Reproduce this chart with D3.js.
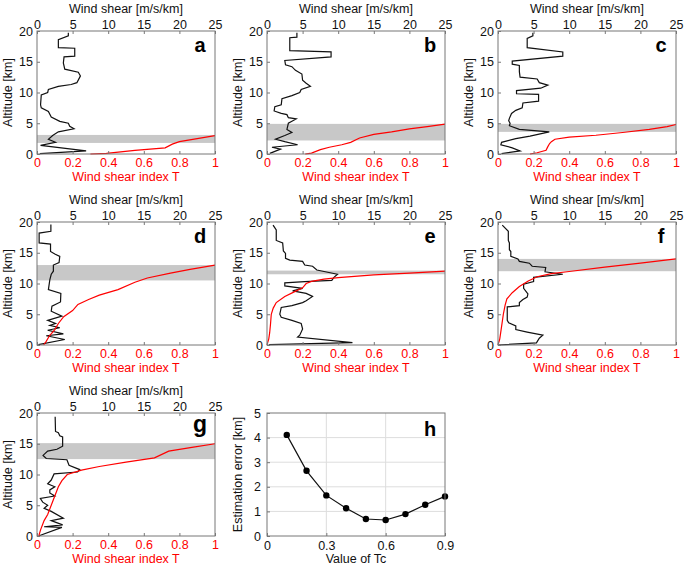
<!DOCTYPE html>
<html>
<head>
<meta charset="utf-8">
<script src="https://cdn.jsdelivr.net/npm/d3@7"></script>
<style>
body { margin: 0; background: #fff; }
text { font-family: "Liberation Sans", Arial, sans-serif; }
</style>
</head>
<body>
<svg id="fig" width="685" height="568"></svg>
<script>
// wind shear profiles [m/s/km, altitude km]
var shearA = [[4.4,19.7],[4.4,19.2],[3.0,18.6],[3.0,17.3],[5.3,17.2],[5.3,15.9],[3.8,15.8],[3.7,14.8],[3.9,13.8],[5.8,13.3],[6.1,12.7],[5.6,11.6],[4.8,11.3],[3.0,11.0],[1.6,10.5],[1.5,10.0],[0.6,9.6],[0.5,8.0],[0.6,7.5],[1.6,6.9],[2.0,6.0],[3.2,5.3],[4.4,5.0],[4.6,4.5],[5.2,4.1],[3.0,3.6],[2.2,3.0],[1.6,2.4],[2.6,1.9],[0.5,1.4],[6.9,0.5],[0.4,0.05]];
var shearB = [[4.2,19.7],[4.2,19.0],[3.2,18.9],[3.2,16.8],[9.0,16.6],[9.0,15.8],[2.5,15.2],[2.6,14.5],[3.5,14.2],[4.0,13.6],[4.9,13.0],[5.0,12.0],[5.5,11.5],[6.1,11.0],[4.8,10.5],[4.6,10.0],[3.5,9.5],[2.1,9.0],[2.0,8.0],[1.1,7.7],[1.0,7.0],[2.0,6.6],[2.8,6.4],[3.0,5.9],[4.1,5.7],[3.0,5.0],[2.8,4.0],[3.5,3.5],[2.5,3.0],[1.2,2.4],[2.5,2.0],[4.3,1.5],[0.7,1.1],[1.9,0.8],[0.4,0.1]];
var shearC = [[4.9,19.7],[4.9,19.2],[4.1,18.8],[4.1,17.3],[9.1,16.6],[9.1,15.9],[2.0,15.1],[2.0,14.6],[3.0,14.4],[3.0,13.4],[3.1,12.5],[5.5,12.2],[5.8,11.6],[7.0,11.2],[6.0,10.7],[2.6,10.3],[2.6,9.8],[5.7,9.7],[5.7,8.6],[3.5,8.3],[3.4,7.5],[2.5,7.1],[1.9,6.6],[1.6,5.8],[1.5,5.4],[1.7,5.0],[1.6,4.6],[3.0,4.0],[7.2,3.6],[4.5,2.9],[2.5,2.5],[0.5,1.9],[0.4,1.5],[2.0,1.0],[3.1,0.5],[0.5,0.05]];
var shearD = [[1.95,19.6],[1.95,18.5],[0.3,18.2],[0.3,16.6],[1.9,16.4],[1.9,15.2],[2.5,14.8],[3.2,14.4],[3.1,13.4],[2.3,13.0],[2.3,12.0],[2.0,11.5],[1.8,10.6],[1.6,9.0],[3.35,8.4],[3.3,7.0],[2.1,6.3],[2.0,5.5],[3.5,4.7],[1.5,4.0],[2.6,3.5],[1.8,3.2],[3.2,2.8],[1.5,2.4],[3.7,1.8],[1.3,1.5],[3.9,0.9],[0.2,0.05]];
var shearE = [[0.85,19.5],[1.3,18.7],[1.3,17.0],[2.2,16.6],[2.3,15.3],[2.6,14.9],[2.6,14.1],[3.2,13.8],[5.0,13.6],[5.3,13.0],[6.4,12.8],[7.0,12.2],[9.9,11.5],[9.4,11.0],[9.1,10.5],[5.3,10.3],[2.5,10.1],[2.5,9.6],[5.0,9.2],[3.6,8.8],[5.5,8.4],[6.4,7.9],[5.5,7.2],[5.0,6.9],[3.5,6.4],[2.0,6.1],[1.8,5.0],[2.0,4.5],[3.5,4.0],[4.8,3.5],[5.0,2.6],[4.6,1.6],[4.3,1.3],[12.0,0.4],[0.3,0.05]];
var shearF = [[0.6,19.5],[1.45,18.5],[1.45,17.0],[1.6,16.6],[1.6,15.5],[1.8,15.2],[1.8,14.4],[2.8,14.0],[3.0,13.6],[4.4,13.3],[4.8,12.8],[6.7,12.6],[6.6,11.9],[9.1,11.5],[5.0,11.0],[5.0,10.3],[3.6,9.9],[3.6,9.2],[4.2,8.3],[4.1,7.8],[3.5,7.4],[3.0,6.9],[3.0,6.4],[1.3,6.2],[1.3,4.0],[1.5,3.6],[2.5,3.1],[2.5,2.5],[4.1,2.1],[6.3,1.6],[5.8,1.1],[5.4,0.35],[0.0,0.0]];
var shearG = [[2.55,19.4],[2.6,17.0],[3.0,16.8],[3.2,16.3],[3.6,16.1],[3.6,14.6],[2.8,14.1],[1.5,13.8],[0.85,13.1],[1.3,12.6],[4.2,12.4],[4.5,11.5],[6.0,10.8],[5.7,10.4],[2.4,10.1],[2.0,9.1],[1.5,8.5],[2.5,8.0],[1.8,7.5],[1.8,7.0],[2.5,6.5],[0.47,6.1],[0.8,5.5],[1.5,5.0],[1.0,4.5],[2.0,4.0],[3.7,2.9],[2.0,2.5],[3.6,1.8],[1.0,1.5],[3.5,1.4],[0.3,0.05]];

// wind shear index T [T, altitude km]
var tA = [[0.30,0],[0.39,0.1],[0.55,0.6],[0.72,1.0],[0.76,1.6],[0.80,2.0],[0.90,2.5],[1.0,3.0]];
var tB = [[0.215,0],[0.25,0.15],[0.30,0.7],[0.35,1.1],[0.42,1.5],[0.47,1.9],[0.52,2.6],[0.60,3.2],[0.70,3.6],[0.80,4.1],[0.90,4.45],[1.0,4.85]];
var tC = [[0.18,0],[0.22,0.2],[0.27,0.6],[0.28,1.2],[0.29,1.7],[0.30,2.0],[0.32,2.4],[0.40,2.75],[0.55,3.05],[0.70,3.5],[0.85,4.0],[0.95,4.45],[1.0,4.8]];
var tD = [[0.037,0],[0.05,0.5],[0.07,1.5],[0.10,2.5],[0.12,3.5],[0.15,4.6],[0.20,5.6],[0.23,6.6],[0.29,7.4],[0.35,8.1],[0.455,9.0],[0.55,10.2],[0.62,10.9],[0.75,11.7],[0.86,12.3],[1.0,13.0]];
var tE = [[0,0],[0.005,0.5],[0.01,1.0],[0.015,2.0],[0.02,3.5],[0.024,5.0],[0.035,6.0],[0.052,6.9],[0.10,7.9],[0.15,8.6],[0.20,9.3],[0.22,10.0],[0.25,10.35],[0.32,10.7],[0.40,10.95],[0.60,11.4],[0.80,11.7],[1.0,12.0]];
var tF = [[0,0],[0.01,1.0],[0.02,3.0],[0.03,5.0],[0.04,6.5],[0.05,7.5],[0.08,8.5],[0.12,9.5],[0.17,10.4],[0.22,11.1],[0.30,11.6],[0.40,11.95],[0.60,12.65],[0.80,13.3],[1.0,14.0]];
var tG = [[0.01,0],[0.02,1.0],[0.04,2.5],[0.06,3.5],[0.08,5.0],[0.10,6.5],[0.12,8.0],[0.14,9.0],[0.17,10.0],[0.25,10.7],[0.35,11.3],[0.50,12.0],[0.66,12.7],[0.74,13.8],[0.87,14.4],[1.0,15.0]];

// estimated layer [bottom, top] km
var bandA = [1.8, 3.1];
var bandB = [2.2, 4.9];
var bandC = [3.6, 4.9];
var bandD = [10.5, 13.0];
var bandE = [11.5, 12.1];
var bandF = [12.0, 14.0];
var bandG = [12.5, 15.1];

// panel h
var tcValues = [0.1, 0.2, 0.3, 0.4, 0.5, 0.6, 0.7, 0.8, 0.9];
var estError = [4.11, 2.65, 1.65, 1.13, 0.69, 0.65, 0.89, 1.27, 1.61];

var shearTicks = [0, 5, 10, 15, 20, 25];
var indexTicks = [0, 0.2, 0.4, 0.6, 0.8, 1];
var altTicks = [0, 5, 10, 15, 20];
var tcTicks = [0, 0.3, 0.6, 0.9];
var errTicks = [0, 1, 2, 3, 4, 5];

var cols = [37, 267, 498], rows = [31, 222, 413];
var pw = 178, ph = 123;
var red = '#f00', frameCol = '#777';
var fs = 12.5;

var svg = d3.select('#fig');

var panels = [
	{ letter: 'a', shear: shearA, t: tA, band: bandA, c: 0, r: 0 },
	{ letter: 'b', shear: shearB, t: tB, band: bandB, c: 1, r: 0 },
	{ letter: 'c', shear: shearC, t: tC, band: bandC, c: 2, r: 0 },
	{ letter: 'd', shear: shearD, t: tD, band: bandD, c: 0, r: 1 },
	{ letter: 'e', shear: shearE, t: tE, band: bandE, c: 1, r: 1 },
	{ letter: 'f', shear: shearF, t: tF, band: bandF, c: 2, r: 1 },
	{ letter: 'g', shear: shearG, t: tG, band: bandG, c: 0, r: 2, serif: true }
];

function styleAxis(g, color) {
	g.select('.domain').remove();
	g.selectAll('line').attr('stroke', frameCol);
	g.selectAll('text').attr('font-size', fs).attr('fill', color);
}

function drawProfile(p) {
	var g = svg.append('g').attr('transform', 'translate(' + cols[p.c] + ',' + rows[p.r] + ')');
	var xs = d3.scaleLinear().domain([0, 25]).range([0, pw]);
	var xt = d3.scaleLinear().domain([0, 1]).range([0, pw]);
	var y = d3.scaleLinear().domain([0, 20]).range([ph, 0]);

	g.append('rect')
		.attr('x', 0).attr('width', pw)
		.attr('y', y(p.band[1])).attr('height', y(p.band[0]) - y(p.band[1]))
		.attr('fill', '#c8c8c8');

	g.append('path').datum(p.shear)
		.attr('d', d3.line().x(function(d) { return xs(d[0]); }).y(function(d) { return y(d[1]); }))
		.attr('fill', 'none').attr('stroke', '#111').attr('stroke-width', 1.2);

	g.append('path').datum(p.t)
		.attr('d', d3.line().x(function(d) { return xt(d[0]); }).y(function(d) { return y(d[1]); }))
		.attr('fill', 'none').attr('stroke', red).attr('stroke-width', 1.2);

	g.append('rect').attr('width', pw).attr('height', ph)
		.attr('fill', 'none').attr('stroke', frameCol).attr('stroke-width', 1);

	g.append('g')
		.call(d3.axisTop(xs).tickValues(shearTicks).tickSize(-3).tickPadding(2))
		.call(styleAxis, '#111');
	g.append('g').attr('transform', 'translate(0,' + ph + ')')
		.call(d3.axisBottom(xt).tickValues(indexTicks).tickFormat(d3.format('')).tickSize(-3).tickPadding(4))
		.call(styleAxis, red);
	g.append('g')
		.call(d3.axisLeft(y).tickValues(altTicks).tickSize(-3).tickPadding(4))
		.call(styleAxis, '#111');

	g.append('text').attr('x', pw / 2).attr('y', -18)
		.attr('text-anchor', 'middle').attr('font-size', fs).attr('fill', '#111')
		.text('Wind shear [m/s/km]');
	g.append('text').attr('x', pw / 2).attr('y', ph + 27)
		.attr('text-anchor', 'middle').attr('font-size', fs).attr('fill', red)
		.text('Wind shear index T');
	g.append('text')
		.attr('transform', 'translate(-25,' + (ph / 2) + ') rotate(-90)')
		.attr('text-anchor', 'middle').attr('font-size', fs).attr('fill', '#111')
		.text('Altitude [km]');

	g.append('text').attr('x', pw - 15).attr('y', p.serif ? 19 : 21)
		.attr('text-anchor', 'middle')
		.attr('font-size', p.serif ? 23 : 20).attr('font-weight', 'bold')
		.attr('font-family', p.serif ? '"Liberation Serif", serif' : null)
		.attr('fill', '#000')
		.text(p.letter);
}

panels.forEach(drawProfile);

// panel h
(function() {
	var g = svg.append('g').attr('transform', 'translate(' + cols[1] + ',' + rows[2] + ')');
	var x = d3.scaleLinear().domain([0, 0.9]).range([0, pw]);
	var y = d3.scaleLinear().domain([0, 5]).range([ph, 0]);

	g.selectAll('.vg').data([0.3, 0.6]).enter().append('line')
		.attr('x1', x).attr('x2', x).attr('y1', 0).attr('y2', ph)
		.attr('stroke', '#ddd');
	g.selectAll('.hg').data([1, 2, 3, 4]).enter().append('line')
		.attr('y1', y).attr('y2', y).attr('x1', 0).attr('x2', pw)
		.attr('stroke', '#ddd');

	var pts = tcValues.map(function(v, i) { return [v, estError[i]]; });
	g.append('path').datum(pts)
		.attr('d', d3.line().x(function(d) { return x(d[0]); }).y(function(d) { return y(d[1]); }))
		.attr('fill', 'none').attr('stroke', '#111').attr('stroke-width', 1.2);
	g.selectAll('circle').data(pts).enter().append('circle')
		.attr('cx', function(d) { return x(d[0]); })
		.attr('cy', function(d) { return y(d[1]); })
		.attr('r', 3.2).attr('fill', '#000');

	g.append('rect').attr('width', pw).attr('height', ph)
		.attr('fill', 'none').attr('stroke', frameCol);

	g.append('g').attr('transform', 'translate(0,' + ph + ')')
		.call(d3.axisBottom(x).tickValues(tcTicks).tickFormat(function(d) { return d === 0 ? '0' : d3.format('.1f')(d); }).tickSize(-3).tickPadding(5))
		.call(styleAxis, '#111');
	g.append('g')
		.call(d3.axisLeft(y).tickValues(errTicks).tickFormat(d3.format('d')).tickSize(-3).tickPadding(6))
		.call(styleAxis, '#111');

	g.append('text').attr('x', pw / 2).attr('y', ph + 27)
		.attr('text-anchor', 'middle').attr('font-size', fs).attr('fill', '#111')
		.text('Value of Tc');
	g.append('text')
		.attr('transform', 'translate(-25,' + (ph / 2) + ') rotate(-90)')
		.attr('text-anchor', 'middle').attr('font-size', fs).attr('fill', '#111')
		.text('Estimation error [km]');
	g.append('text').attr('x', pw - 15).attr('y', 23)
		.attr('text-anchor', 'middle').attr('font-size', 20).attr('font-weight', 'bold')
		.attr('fill', '#000').text('h');
})();
</script>
</body>
</html>
